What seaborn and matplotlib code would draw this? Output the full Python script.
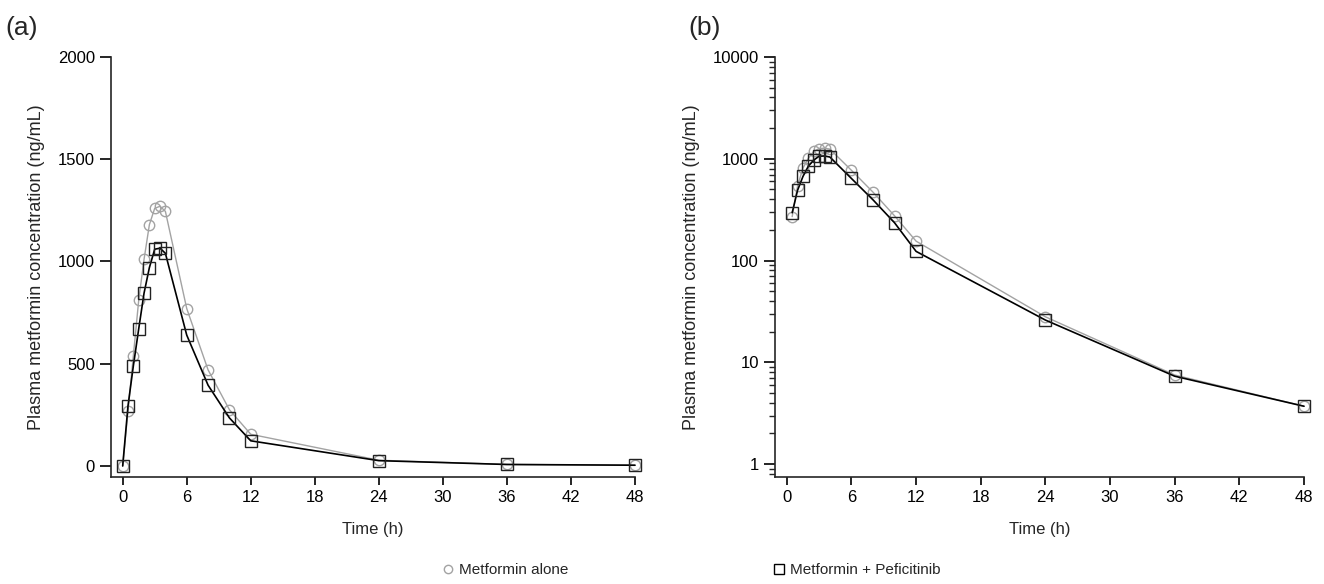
import matplotlib
matplotlib.use("Agg")
import matplotlib.pyplot as plt
import seaborn as sns
import pandas as pd
from matplotlib.lines import Line2D

# sampling times (h)
times = [0, 0.5, 1, 1.5, 2, 2.5, 3, 3.5, 4, 6, 8, 10, 12, 24, 36, 48]

# plasma metformin concentration (ng/mL)
alone = [0, 270, 540, 810, 1010, 1180, 1260, 1270, 1245, 770, 470, 275, 155, 28, 7.5, 3.7]
combo = [0, 295, 490, 670, 845, 970, 1060, 1065, 1040, 640, 395, 235, 123, 26, 7.3, 3.7]

xticks = [0, 6, 12, 18, 24, 30, 36, 42, 48]
lin_yticks = [0, 500, 1000, 1500, 2000]
log_yticks = [1, 10, 100, 1000, 10000]

df = pd.DataFrame({"time": times, "alone": alone, "combo": combo})

sns.set_style("ticks")
plt.rcParams["font.family"] = ["Liberation Sans", "DejaVu Sans"]

fig = plt.figure(figsize=(13.24, 5.84), dpi=100)
ax_a = fig.add_axes([0.0838, 0.1832, 0.3958, 0.7192])
ax_b = fig.add_axes([0.5853, 0.1832, 0.3996, 0.7192])

grey = "#a3a3a3"

def draw(ax, d):
    sns.lineplot(data=d, x="time", y="alone", ax=ax, color=grey, lw=1.0,
                 marker="o", markersize=7.5, markerfacecolor="none",
                 markeredgecolor=grey, markeredgewidth=1.0, clip_on=False)
    sns.lineplot(data=d, x="time", y="combo", ax=ax, color="black", lw=1.2,
                 marker="s", markersize=8, markerfacecolor="none",
                 markeredgecolor="#222222", markeredgewidth=1.0, clip_on=False)
    ax.set_xlim(-1.1, 48)
    ax.set_xticks(xticks)
    ax.set_xlabel("Time (h)", fontsize=12, labelpad=12)
    ax.set_ylabel("Plasma metformin concentration (ng/mL)", fontsize=13, labelpad=9)
    for s in ["top", "right"]:
        ax.spines[s].set_visible(False)
    for s in ["left", "bottom"]:
        ax.spines[s].set_linewidth(1.2)
    ax.tick_params(axis="both", labelsize=12, width=1.2, colors="black")
    ax.tick_params(axis="y", which="major", length=8, direction="out")
    ax.tick_params(axis="x", which="major", length=6, direction="out")

draw(ax_a, df)
ax_a.set_ylim(-54, 2000)
ax_a.set_yticks(lin_yticks)
ax_a.set_yticklabels([str(v) for v in lin_yticks])

draw(ax_b, df[df["time"] > 0])
ax_b.set_yscale("log")
ax_b.set_ylim(0.746, 10000)
ax_b.set_yticks(log_yticks)
ax_b.set_yticklabels([str(v) for v in log_yticks])
ax_b.tick_params(axis="y", which="minor", length=4, width=1.0, direction="out")

fig.text(0.004, 0.94, "(a)", fontsize=19)
fig.text(0.52, 0.94, "(b)", fontsize=19)

handles = [
    Line2D([], [], ls="none", marker="o", markersize=6, markerfacecolor="none",
           markeredgecolor=grey, markeredgewidth=1.0),
    Line2D([], [], ls="none", marker="s", markersize=6.5, markerfacecolor="none",
           markeredgecolor="black", markeredgewidth=1.0),
]
fig.legend(handles, ["Metformin alone", "Metformin + Peficitinib"], loc="lower center",
           bbox_to_anchor=(0.522, -0.012), ncol=2, frameon=False, fontsize=11,
           handlelength=0.8, handletextpad=0.3, columnspacing=13.4)

fig.savefig("out.png", dpi=100)
